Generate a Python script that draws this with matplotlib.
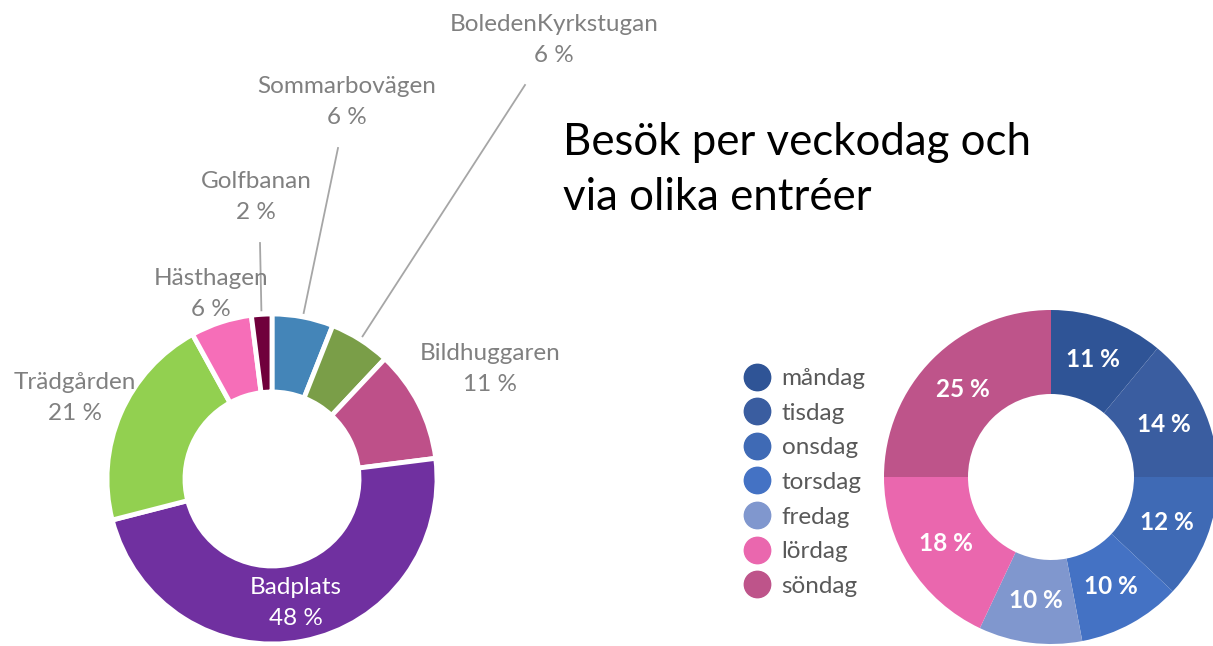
import matplotlib.pyplot as plt
from matplotlib.lines import Line2D
import numpy as np

plt.rcParams['font.family'] = ['Lato', 'DejaVu Sans']

# entrances (left donut), clockwise from 12 o'clock
entrances = ['Sommarbovägen', 'BoledenKyrkstugan', 'Bildhuggaren', 'Badplats',
             'Trädgården', 'Hästhagen', 'Golfbanan']
entrance_pct = [6, 6, 11, 48, 21, 6, 2]
entrance_colors = ['#4485b8', '#7a9e48', '#be5089', '#7030a0',
                   '#92d050', '#f66eb8', '#70003c']

# weekdays (right donut)
weekdays = ['måndag', 'tisdag', 'onsdag', 'torsdag', 'fredag', 'lördag', 'söndag']
weekday_pct = [11, 14, 12, 10, 10, 18, 25]
weekday_colors = ['#2f5496', '#3a5da0', '#3f6ab5', '#4472c4',
                  '#8097ce', '#ea67ae', '#be548a']

title = 'Besök per veckodag och\nvia olika entréer'

W, H = 1213, 646
fig = plt.figure(figsize=(W / 100, H / 100), dpi=100)
ax = fig.add_axes([0, 0, 1, 1])

gray = '#808080'
fs = 17.5

# left donut
lc = (272, H - 479)
lr = 165
wedges, _ = ax.pie(entrance_pct, colors=entrance_colors, startangle=90,
                   counterclock=False, radius=lr, center=lc,
                   wedgeprops=dict(width=78, edgecolor='white', linewidth=3.5))

# label positions (centre of two-line label) and leader line ends, pixel coords
label_pos = {
    'Sommarbovägen': (347, 102),
    'BoledenKyrkstugan': (554, 40),
    'Bildhuggaren': (490, 369),
    'Trädgården': (75, 398),
    'Hästhagen': (211, 294),
    'Golfbanan': (256, 197),
}
line_end = {
    'Sommarbovägen': (338, 148),
    'BoledenKyrkstugan': (525, 85),
    'Golfbanan': (260, 243),
}

for w, name, pct in zip(wedges, entrances, entrance_pct):
    mid = np.deg2rad((w.theta1 + w.theta2) / 2)
    if name == 'Badplats':
        rr = lr - 39
        x = lc[0] + rr * np.cos(mid)
        y = lc[1] + rr * np.sin(mid)
        ax.text(x, y, f'{name}\n{pct} %', color='white', fontsize=fs,
                ha='center', va='center', linespacing=1.6)
        continue
    lx, ly = label_pos[name]
    ax.text(lx, H - ly, f'{name}\n{pct} %', color=gray, fontsize=fs,
            ha='center', va='center', linespacing=1.6)
    if name in line_end:
        ex, ey = line_end[name]
        sx = lc[0] + (lr + 4) * np.cos(mid)
        sy = lc[1] + (lr + 4) * np.sin(mid)
        ax.plot([sx, ex], [sy, H - ey], color='#a6a6a6', lw=1.3)

# right donut
rc = (1051, H - 477)
rr_out = 167
wedges2, _, autotexts = ax.pie(weekday_pct, colors=weekday_colors, startangle=90,
                               counterclock=False, radius=rr_out, center=rc,
                               autopct=lambda p: f'{p:.0f} %', pctdistance=0.745,
                               wedgeprops=dict(width=84, linewidth=0))
for t in autotexts:
    t.set_color('white')
    t.set_fontsize(fs)
    t.set_fontweight('bold')

handles = [Line2D([], [], marker='o', linestyle='', markersize=19,
                  markerfacecolor=c, markeredgecolor=c) for c in weekday_colors]
leg = ax.legend(handles, weekdays, loc='upper left', frameon=False,
                bbox_to_anchor=(744 / W, 1 - 368 / H), fontsize=fs,
                labelspacing=0.56, handletextpad=0.45, handlelength=1.1,
                borderpad=0, borderaxespad=0)
for t in leg.get_texts():
    t.set_color('#595959')

ax.text(563, H - 170, title, fontsize=31.5, color='black', ha='left', va='center',
        linespacing=1.42)

ax.set_xlim(0, W)
ax.set_ylim(0, H)
ax.set_aspect('equal')
ax.axis('off')

fig.savefig('out.png', dpi=100)
